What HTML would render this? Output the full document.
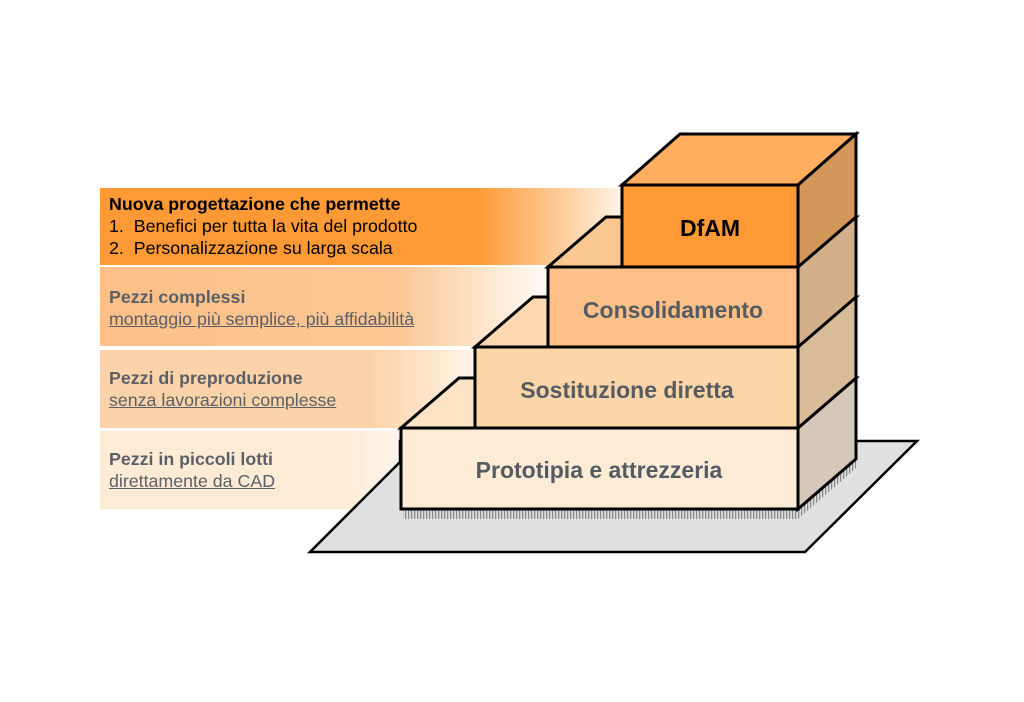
<!DOCTYPE html>
<html><head><meta charset="utf-8"><style>
body{margin:0;width:1024px;height:702px;background:#fff;position:relative;overflow:hidden;font-family:"Liberation Sans",Arial,sans-serif}
.band{position:absolute;left:100px;}
.t{position:absolute;left:109px;font-size:17.8px;line-height:22px;color:#5b6068}
.t b{font-weight:bold}
.t u{text-decoration:underline}
</style></head><body>
<div class="band" style="top:188px;height:77px;width:540px;background:linear-gradient(90deg,#fd9a35 0%,#fd9a35 70%,#fecb98 85%,rgba(255,255,255,0) 100%)"></div>
<div class="band" style="top:267px;height:79px;width:460px;background:linear-gradient(90deg,#fcc088 0%,#fcc794 65%,#fde3c8 82%,rgba(255,255,255,0) 100%)"></div>
<div class="band" style="top:350px;height:78px;width:400px;background:linear-gradient(90deg,#fcd3a8 0%,#fcd3a8 68%,#fde8d2 85%,rgba(255,255,255,0) 100%)"></div>
<div class="band" style="top:431px;height:78px;width:350px;background:linear-gradient(90deg,#fdebd6 0%,#fdebd6 70%,#fef4ea 85%,rgba(255,255,255,0) 100%)"></div>

<div class="t" style="top:193px;color:#000"><b>Nuova progettazione che permette</b><br>1.&nbsp; Benefici per tutta la vita del prodotto<br>2.&nbsp; Personalizzazione su larga scala</div>
<div class="t" style="top:286px"><b>Pezzi complessi</b><br><u>montaggio più semplice, più affidabilità</u></div>
<div class="t" style="top:367px"><b>Pezzi di preproduzione</b><br><u>senza lavorazioni complesse</u></div>
<div class="t" style="top:448px"><b>Pezzi in piccoli lotti</b><br><u>direttamente da CAD</u></div>

<svg width="1024" height="702" style="position:absolute;left:0;top:0" xmlns="http://www.w3.org/2000/svg">
<defs><pattern id="h" width="3" height="10" patternUnits="userSpaceOnUse"><rect width="1.3" height="10" fill="#888"/></pattern></defs>
<polygon points="400,441 917,441 805,552 310,552 400,462" fill="#e0e0e0" stroke="#000" stroke-width="2.5"/>
<rect x="403" y="509" width="395" height="10" fill="url(#h)"/>
<polygon points="798,509 856,459 856,468 798,519" fill="url(#h)"/>
<g stroke="#000" stroke-width="3" stroke-linejoin="miter">
<polygon points="401,428 459,378 856,378 798,428" fill="#fde4c4"/>
<polygon points="798,428 856,378 856,459 798,509" fill="#d6c8b8"/>
<rect x="401" y="428" width="397" height="81" fill="#fdebd6"/>
<polygon points="475,347 533,297 856,297 798,347" fill="#fdd7ad"/>
<polygon points="798,347 856,297 856,378 798,428" fill="#d8bc9a"/>
<rect x="475" y="347" width="323" height="81" fill="#fcd6a8"/>
<polygon points="548,267 606,217 856,217 798,267" fill="#fcc892"/>
<polygon points="798,267 856,217 856,297 798,347" fill="#d4b08a"/>
<rect x="548" y="267" width="250" height="80" fill="#fcc088"/>
<polygon points="622,185 680,134 856,134 798,185" fill="#ffad5e"/>
<polygon points="798,185 856,134 856,217 798,267" fill="#d4975a"/>
<rect x="622" y="185" width="176" height="82" fill="#fd9a35"/>
</g>
<g font-family="Liberation Sans,Arial,sans-serif" font-weight="bold" font-size="23" text-anchor="middle" fill="#555b63">
<text x="710" y="236" fill="#000">DfAM</text>
<text x="673" y="318">Consolidamento</text>
<text x="627" y="398">Sostituzione diretta</text>
<text x="599" y="478">Prototipia e attrezzeria</text>
</g>
</svg>
</body></html>
